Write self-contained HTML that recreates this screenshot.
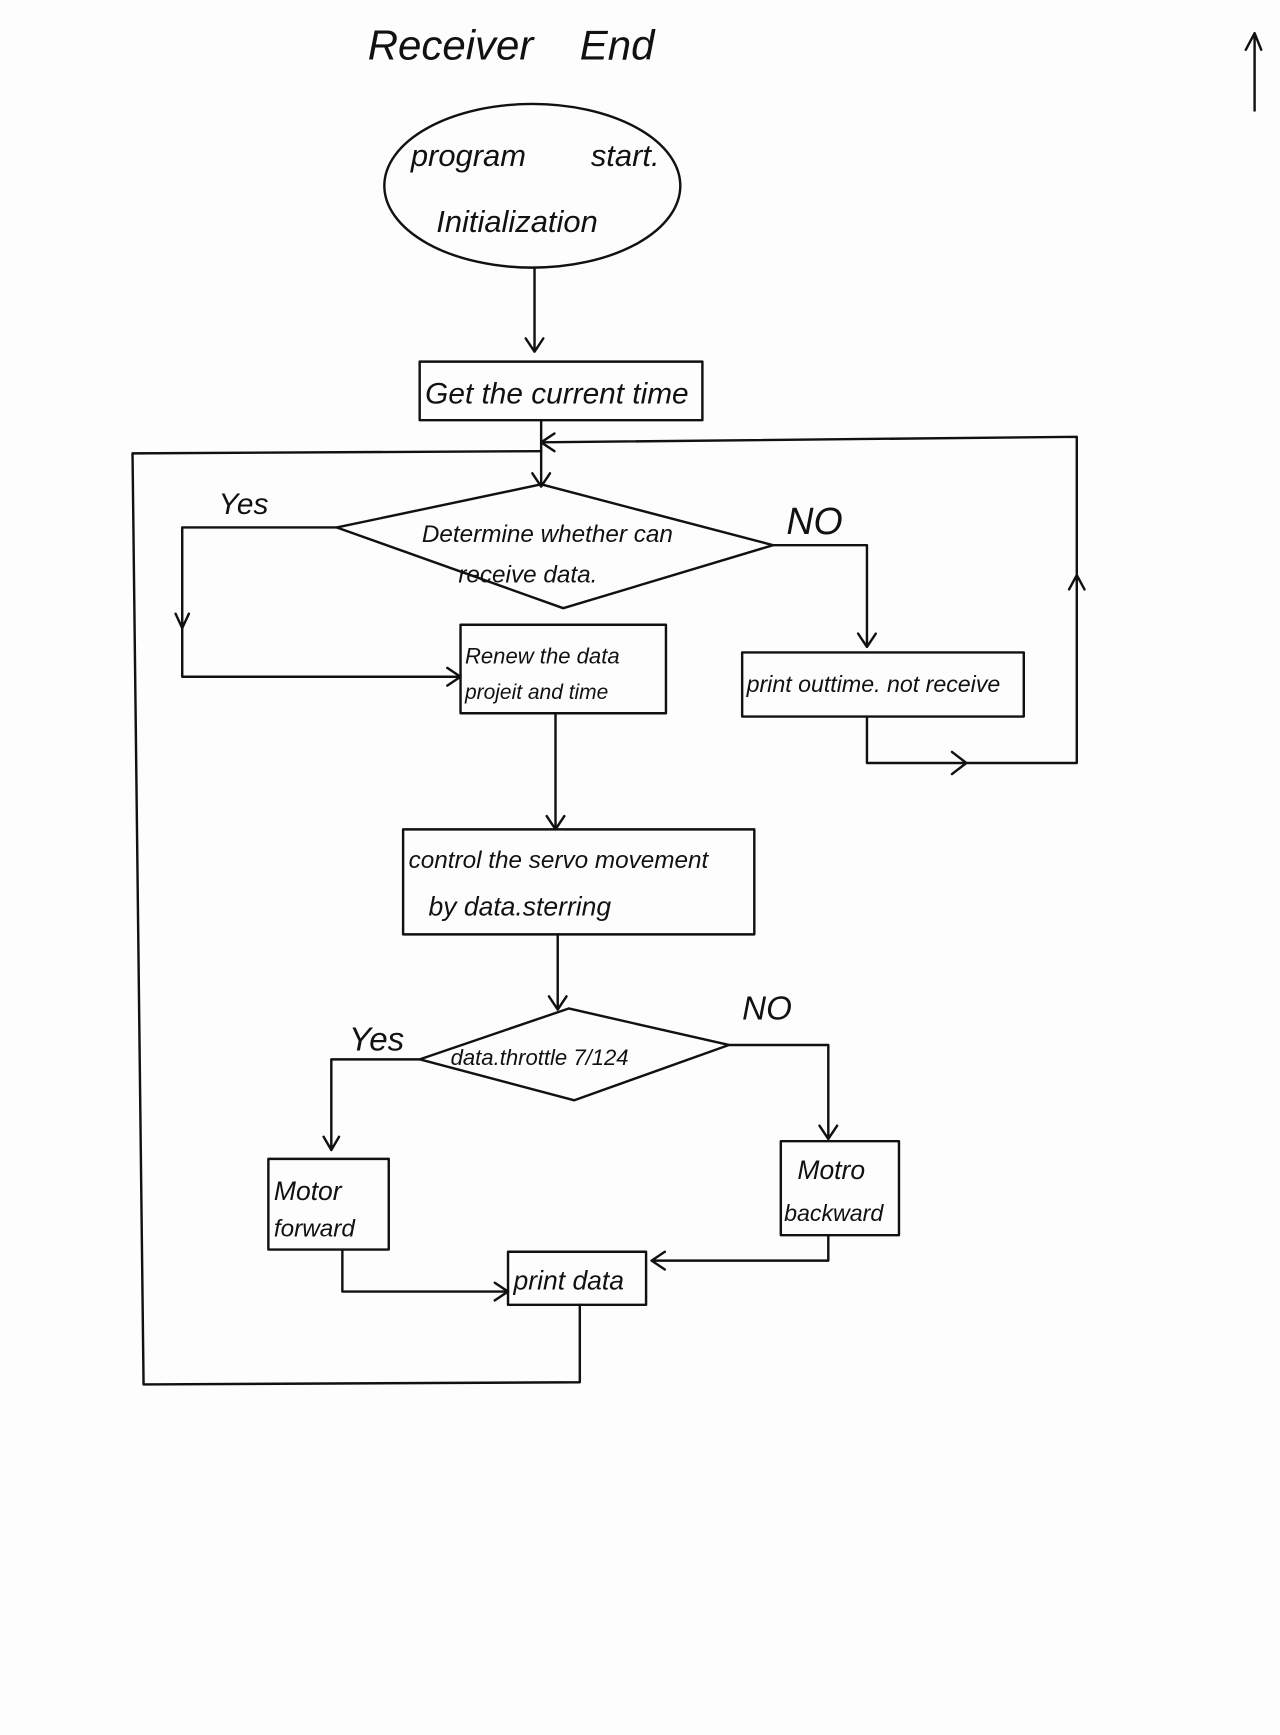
<!DOCTYPE html>
<html><head><meta charset="utf-8">
<style>
html,body{margin:0;padding:0;background:#fdfdfd;}
svg{display:block}
text{font-family:"Liberation Sans",sans-serif;font-style:italic;fill:#111}
</style></head>
<body>
<svg width="1280" height="1735" viewBox="0 0 1159 1569" preserveAspectRatio="none" xmlns="http://www.w3.org/2000/svg">
<rect width="1159" height="1569" fill="#fdfdfd"/>
<g fill="none" stroke="#111" stroke-width="2.2" stroke-linecap="round" stroke-linejoin="round">
<!-- start ellipse -->
<ellipse cx="482" cy="168" rx="134" ry="74"/>
<path d="M484 242 L484 318 M476 306 L484 318 L492 306"/>
<rect x="380" y="327" width="256" height="53"/>
<path d="M490 380 L490 440 M482 428 L490 440 L498 428"/>
<!-- diamond 1 -->
<path d="M305 477 L490 438 L700 493 L510 550 Z"/>
<!-- yes branch -->
<path d="M305 477 L165 477 L165 612 L417 612 M405 604 L417 612 L405 620 M159 555 L165 568 L171 555"/>
<rect x="417" y="565" width="186" height="80"/>
<!-- no branch -->
<path d="M700 493 L785 493 L785 585 M777 573 L785 585 L793 573"/>
<rect x="672" y="590" width="255" height="58"/>
<path d="M785 648 L785 690 L975 690 L975 395 L490 400 M862 680 L875 690 L862 700 M968 533 L975 520 L982 533 M502 392 L490 400 L502 408"/>
<!-- loop left -->
<path d="M490 408 L120 410 L130 1252 L525 1250 L525 1180"/>
<path d="M503 645 L503 750 M495 738 L503 750 L511 738"/>
<rect x="365" y="750" width="318" height="95"/>
<path d="M505 845 L505 913 M497 901 L505 913 L513 901"/>
<!-- diamond 2 -->
<path d="M380 958 L515 912 L660 945 L520 995 Z"/>
<path d="M380 958 L300 958 L300 1040 M293 1028 L300 1040 L307 1028"/>
<rect x="243" y="1048" width="109" height="82"/>
<path d="M660 945 L750 945 L750 1030 M742 1018 L750 1030 L758 1018"/>
<rect x="707" y="1032" width="107" height="85"/>
<path d="M750 1117 L750 1140 L590 1140 M602 1132 L590 1140 L602 1148"/>
<path d="M310 1130 L310 1168 L460 1168 M448 1160 L460 1168 L448 1176"/>
<rect x="460" y="1132" width="125" height="48"/>
<!-- top right arrow -->
<path d="M1136 100 L1136 30 M1128 45 L1136 30 L1142 45"/>
</g>
<text x="333" y="54" font-size="38">Receiver</text>
<text x="525" y="54" font-size="38">End</text>
<text x="372" y="150" font-size="28">program</text>
<text x="535" y="150" font-size="28">start.</text>
<text x="395" y="210" font-size="28">Initialization</text>
<text x="385" y="365" font-size="27">Get the current time</text>
<text x="198" y="465" font-size="27">Yes</text>
<text x="712" y="483" font-size="34">NO</text>
<text x="382" y="490" font-size="22">Determine whether can</text>
<text x="415" y="527" font-size="22">receive data.</text>
<text x="421" y="600" font-size="20">Renew the data</text>
<text x="421" y="632" font-size="19">projeit and time</text>
<text x="676" y="626" font-size="21">print outtime. not receive</text>
<text x="370" y="785" font-size="22">control the servo movement</text>
<text x="388" y="828" font-size="24">by data.sterring</text>
<text x="316" y="950" font-size="30">Yes</text>
<text x="672" y="922" font-size="30">NO</text>
<text x="408" y="963" font-size="20">data.throttle 7/124</text>
<text x="248" y="1085" font-size="24">Motor</text>
<text x="248" y="1118" font-size="22">forward</text>
<text x="722" y="1066" font-size="24">Motro</text>
<text x="710" y="1104" font-size="21">backward</text>
<text x="465" y="1166" font-size="24">print data</text>
</svg>
</body></html>
